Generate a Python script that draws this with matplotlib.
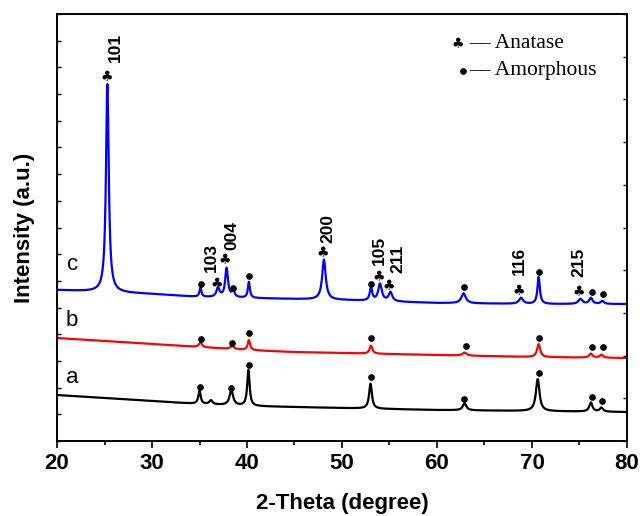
import numpy as np
import matplotlib
matplotlib.use("Agg")
import matplotlib.pyplot as plt

# XRD патерны трёх образцов (a, b, c): фон + пики (положение, высота, ширина)
base_x = [20, 25, 30, 35, 40, 45, 50, 60, 70, 80]

c_base = [151, 149, 147, 144, 143, 142, 141, 138, 137, 137]
c_pos = [25.3, 35.1, 36.95, 37.85, 38.55, 40.2, 48.1, 53.05, 54.0, 55.1, 62.8, 68.85, 70.7, 75.1, 76.2, 77.4]
c_h = [208, 9, 9, 29, 6, 16, 40, 13, 17, 9, 10, 6, 27, 5, 6, 3]
c_w = [0.35, 0.25, 0.4, 0.35, 0.35, 0.25, 0.45, 0.3, 0.45, 0.45, 0.55, 0.5, 0.3, 0.5, 0.4, 0.4]

b_base = [103, 100, 97, 94, 91, 89, 88, 86, 84, 83]
b_pos = [35.1, 38.45, 40.2, 53.05, 62.9, 70.7, 76.2, 77.3]
b_h = [5, 3, 10, 8, 3, 13, 4, 3]
b_w = [0.35, 0.45, 0.3, 0.35, 0.5, 0.4, 0.4, 0.4]

a_base = [46, 43, 40, 37, 35, 34, 33, 31, 30, 29]
a_pos = [35.0, 36.2, 38.35, 40.15, 53.0, 62.9, 70.6, 76.2, 77.3]
a_h = [13, 4, 15, 36, 25, 7, 32, 9, 4]
a_w = [0.3, 0.4, 0.45, 0.3, 0.35, 0.45, 0.45, 0.4, 0.4]

# подписи пиков анатаза
hkl = ["101", "103", "004", "200", "105", "211", "116", "215"]
hkl_x = [26.1, 36.25, 38.45, 48.5, 53.9, 55.85, 68.7, 74.9]
hkl_y = [379, 169, 191, 198, 176, 168, 166, 164]
club_x = [25.26, 36.84, 37.68, 48.0, 53.9, 54.95, 68.6, 74.9]
club_y = [364, 157, 181, 188, 164, 155, 150, 149]

# точки (аморфная фаза)
dot_x = [35.16, 38.53, 40.21, 53.05, 62.84, 70.74, 76.32, 77.47]
dot_c_y = [157, 153, 165, 157, 154, 169, 149, 147]
dot_b_x = [35.16, 38.42, 40.21, 53.05, 63.05, 70.74, 76.32, 77.47]
dot_b_y = [102, 98, 108, 103, 95, 103, 94, 94]
dot_a_x = [35.05, 38.32, 40.21, 53.05, 62.84, 70.74, 76.32, 77.37]
dot_a_y = [54, 53, 76, 64, 42, 68, 44, 40]


def pattern(x, base, pos, h, w):
    y = np.interp(x, base_x, base)
    for p, hh, ww in zip(pos, h, w):
        y = y + hh / (1 + ((x - p) / (ww / 2)) ** 2)
    return y


x = np.linspace(20, 80, 3000)

fig = plt.figure(figsize=(6.42, 5.16), dpi=100)
ax = fig.add_axes([0.0888, 0.1453, 0.8878, 0.8276])

ax.plot(x, pattern(x, a_base, a_pos, a_h, a_w), color="black", lw=1.6)
ax.plot(x, pattern(x, b_base, b_pos, b_h, b_w), color="red", lw=1.6)
ax.plot(x, pattern(x, c_base, c_pos, c_h, c_w), color="blue", lw=1.6)

for t, tx, ty in zip(hkl, hkl_x, hkl_y):
    ax.text(tx, ty, t, rotation=90, ha="center", va="bottom", fontsize=12.5,
            fontweight="bold", family=["Liberation Sans Narrow", "Liberation Sans"])
for cx, cy in zip(club_x, club_y):
    ax.text(cx, cy, "\u2663", ha="center", va="center", fontsize=10)

ax.plot(dot_x, dot_c_y, "o", color="black", ms=3.8)
ax.plot(dot_b_x, dot_b_y, "o", color="black", ms=3.8)
ax.plot(dot_a_x, dot_a_y, "o", color="black", ms=3.8)

# подписи кривых
for lab, ly in zip(["c", "b", "a"], [177, 121, 64]):
    ax.text(21.6, ly, lab, ha="center", va="center", fontsize=16, family="Liberation Sans")

# легенда
ax.text(62.2, 397, "\u2663", ha="center", va="center", fontsize=10)
ax.text(63.4, 397, "\u2013\u2013 Anatase", ha="left", va="center", fontsize=15.5, family="Liberation Serif")
ax.plot([62.7], [370], "o", color="black", ms=3.8)
ax.text(63.4, 370, "\u2013\u2013 Amorphous", ha="left", va="center", fontsize=15.5, family="Liberation Serif")

ax.set_xlim(20, 80)
ax.set_ylim(0, 427)
ax.set_xticks(np.arange(20, 81, 10))
ax.set_xticks(np.arange(25, 80, 10), minor=True)
ax.set_yticks(np.linspace(0, 427, 17))
ax.set_yticklabels([])
ax.tick_params(axis="x", which="major", direction="out", length=5, width=1.2, labelsize=16)
ax.tick_params(axis="x", which="minor", direction="out", length=3, width=1.2)
ax.tick_params(axis="y", direction="in", length=3, width=1)
for lab in ax.get_xticklabels():
    lab.set_fontweight("bold")
    lab.set_family(["Liberation Sans Narrow", "Liberation Sans"])

ax2 = ax.twinx()
ax2.set_ylim(0, 427)
ax2.set_yticks(np.linspace(0, 427, 11))
ax2.set_yticklabels([])
ax2.tick_params(axis="y", direction="in", length=3, width=1)

for a in (ax, ax2):
    for s in a.spines.values():
        s.set_linewidth(1.2)

ax.set_xlabel("2-Theta (degree)", fontsize=16, fontweight="bold", labelpad=14,
              family=["Liberation Sans Narrow", "Liberation Sans"])
ax.set_ylabel("Intensity (a.u.)", fontsize=16, fontweight="bold", labelpad=12,
              family=["Liberation Sans Narrow", "Liberation Sans"])

fig.savefig("out.png", dpi=100)
